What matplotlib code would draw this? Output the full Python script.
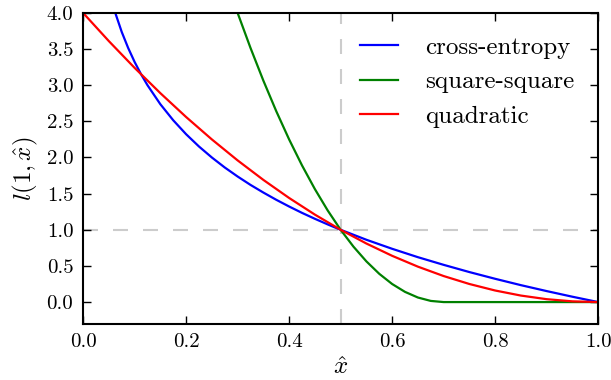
import matplotlib
matplotlib.use('Agg')
import matplotlib.pyplot as plt

x_ce = [0.0625, 0.075, 0.0875, 0.1, 0.1125, 0.125, 0.15, 0.175, 0.2, 0.225, 0.25, 0.275,
        0.3, 0.325, 0.35, 0.375, 0.4, 0.425, 0.45, 0.475, 0.5, 0.55, 0.6, 0.65, 0.7,
        0.75, 0.8, 0.85, 0.9, 0.95, 1.0]
y_ce = [4.0, 3.737, 3.515, 3.322, 3.152, 3.0, 2.737, 2.515, 2.322, 2.152, 2.0, 1.862,
        1.737, 1.621, 1.515, 1.415, 1.322, 1.234, 1.152, 1.074, 1.0, 0.862, 0.737, 0.621, 0.515,
        0.415, 0.322, 0.234, 0.152, 0.074, 0.0]

x_sq = [0.3, 0.325, 0.35, 0.375, 0.4, 0.425, 0.45, 0.475, 0.5, 0.525, 0.55, 0.575,
        0.6, 0.625, 0.65, 0.675, 0.7, 0.8, 0.9, 1.0]
y_sq = [4.0, 3.516, 3.063, 2.641, 2.25, 1.891, 1.563, 1.266, 1.0, 0.766, 0.563, 0.391,
        0.25, 0.141, 0.063, 0.016, 0.0, 0.0, 0.0, 0.0]

x_quad = [0.0, 0.05, 0.1, 0.15, 0.2, 0.25, 0.3, 0.35, 0.4, 0.45, 0.5, 0.55, 0.6, 0.65,
          0.7, 0.75, 0.8, 0.85, 0.9, 0.95, 1.0]
y_quad = [4.0, 3.61, 3.24, 2.89, 2.56, 2.25, 1.96, 1.69, 1.44, 1.21, 1.0, 0.81, 0.64, 0.49,
          0.36, 0.25, 0.16, 0.09, 0.04, 0.01, 0.0]

x_ticks = [0.0, 0.2, 0.4, 0.6, 0.8, 1.0]
y_ticks = [0.0, 0.5, 1.0, 1.5, 2.0, 2.5, 3.0, 3.5, 4.0]

plt.rcParams['font.family'] = 'serif'
plt.rcParams['font.serif'] = ['cmr10']
plt.rcParams['mathtext.fontset'] = 'cm'
plt.rcParams['axes.formatter.use_mathtext'] = True
plt.rcParams['xtick.direction'] = 'in'
plt.rcParams['ytick.direction'] = 'in'

fig = plt.figure(figsize=(6.11, 3.8), dpi=100)
ax = fig.add_axes([0.136, 0.148, 0.843, 0.818])

ax.axvline(0.5, color='0.8', linestyle='--', dashes=(7.2, 7.2), linewidth=1.5, zorder=1)
ax.axhline(1.0, color='0.8', linestyle='--', dashes=(7.2, 7.2), linewidth=1.5, zorder=1)

ax.plot(x_ce, y_ce, color='blue', linewidth=1.6, label='cross-entropy')
ax.plot(x_sq, y_sq, color='green', linewidth=1.6, label='square-square')
ax.plot(x_quad, y_quad, color='red', linewidth=1.6, label='quadratic')

ax.set_xlim(0, 1)
ax.set_ylim(-0.3, 4.0)
ax.set_xticks(x_ticks)
ax.set_yticks(y_ticks)
ax.set_xticklabels(['%.1f' % v for v in x_ticks])
ax.set_yticklabels(['%.1f' % v for v in y_ticks])
ax.tick_params(axis='both', which='both', top=True, right=True, labelsize=15,
               length=6, width=1.0, pad=7)
for s in ax.spines.values():
    s.set_linewidth(1.5)

ax.set_xlabel(r'$\hat{x}$', fontsize=18, labelpad=4)
ax.set_ylabel(r'$l(1,\hat{x})$', fontsize=18, labelpad=5)

ax.legend(loc='upper right', frameon=False, fontsize=18, handlelength=1.5,
          handletextpad=1.1, labelspacing=0.47, borderaxespad=0.55)

fig.savefig('out.png', dpi=100)
